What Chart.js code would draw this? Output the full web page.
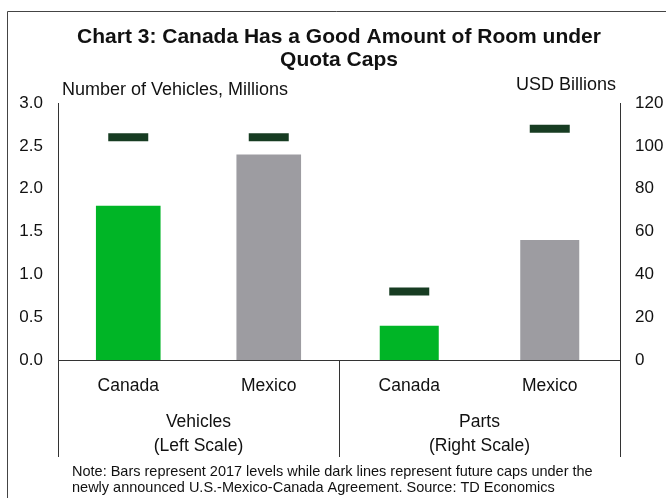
<!DOCTYPE html>
<html lang="en">
<head>
<meta charset="UTF-8">
<title>Chart 3</title>
<script src="https://cdn.jsdelivr.net/npm/chart.js"></script>
<style>
  html, body { margin: 0; padding: 0; background: #fff; }
  .box { width: 666px; height: 498px; }
</style>
</head>
<body>
<div class="box"><canvas id="grafico" width="666" height="498"></canvas></div>
<script>
// data
const categorias = ['Canada', 'Mexico', 'Canada', 'Mexico'];
const grupos = [['Vehicles', '(Left Scale)'], ['Parts', '(Right Scale)']];
const veiculos = [1.8, 2.4, null, null];        // millions, left scale
const pecas = [null, null, 16, 56];             // USD billions, right scale
const tetoVeiculos = [2.6, 2.6, null, null];
const tetoPecas = [null, null, 32, 108];
const ticksEsq = [0, 0.5, 1, 1.5, 2, 2.5, 3];
const ticksDir = [0, 20, 40, 60, 80, 100, 120];

const FONTE = '"Liberation Sans", Arial, sans-serif';
const corBarra = ['#00b526', '#9d9ca1', '#00b526', '#9d9ca1'];
const corTeto = '#173c22';

const extras = {
  id: 'extras',
  afterDraw(chart) {
    const ctx = chart.ctx;
    const area = chart.chartArea;
    const x = chart.scales.x;
    ctx.save();

    // moldura
    ctx.strokeStyle = '#444';
    ctx.lineWidth = 1;
    ctx.beginPath();
    ctx.moveTo(7.5, 498);
    ctx.lineTo(7.5, 11.5);
    ctx.lineTo(666, 11.5);
    ctx.stroke();

    // titulo
    ctx.fillStyle = '#111';
    ctx.textAlign = 'center';
    ctx.textBaseline = 'middle';
    ctx.font = 'bold 21px ' + FONTE;
    ctx.fillText('Chart 3: Canada Has a Good Amount of Room under', 339, 37);
    ctx.fillText('Quota Caps', 339, 60);

    // titulos dos eixos
    ctx.font = '18px ' + FONTE;
    ctx.textAlign = 'left';
    ctx.fillText('Number of Vehicles, Millions', 62, 90);
    ctx.textAlign = 'right';
    ctx.fillText('USD Billions', 616, 85);

    // separadores das categorias
    const meio = (x.getPixelForValue(1) + x.getPixelForValue(2)) / 2;
    ctx.strokeStyle = '#333';
    ctx.beginPath();
    [area.left, meio, area.right].forEach(function (px) {
      const p = Math.round(px) + 0.5;
      ctx.moveTo(p, area.bottom);
      ctx.lineTo(p, 457);
    });
    ctx.stroke();

    // rotulos dos grupos
    ctx.textAlign = 'center';
    ctx.fillStyle = '#111';
    ctx.font = '17.5px ' + FONTE;
    for (let g = 0; g < grupos.length; g++) {
      const cx = (x.getPixelForValue(g * 2) + x.getPixelForValue(g * 2 + 1)) / 2;
      ctx.fillText(grupos[g][0], cx, 422);
      ctx.fillText(grupos[g][1], cx, 446);
    }

    // nota
    ctx.textAlign = 'left';
    ctx.font = '14.5px ' + FONTE;
    ctx.fillText('Note: Bars represent 2017 levels while dark lines represent future caps under the', 72, 472);
    ctx.fillText('newly announced U.S.-Mexico-Canada Agreement. Source: TD Economics', 72, 488);
    ctx.restore();
  }
};

const ctx = document.getElementById('grafico');

new Chart(ctx, {
  type: 'bar',
  data: {
    labels: categorias,
    datasets: [
      {
        label: 'Vehicles',
        data: veiculos,
        yAxisID: 'y',
        backgroundColor: corBarra,
        categoryPercentage: 1,
        barPercentage: 0.46,
        grouped: false,
        order: 2
      },
      {
        label: 'Parts',
        data: pecas,
        yAxisID: 'y2',
        backgroundColor: corBarra,
        categoryPercentage: 1,
        barPercentage: 0.42,
        grouped: false,
        order: 2
      },
      {
        type: 'line',
        label: 'Vehicle caps',
        data: tetoVeiculos,
        yAxisID: 'y',
        showLine: false,
        pointStyle: 'line',
        pointRadius: 20,
        pointHoverRadius: 20,
        pointBorderWidth: 8,
        pointHoverBorderWidth: 8,
        borderColor: corTeto,
        order: 1
      },
      {
        type: 'line',
        label: 'Parts caps',
        data: tetoPecas,
        yAxisID: 'y2',
        showLine: false,
        pointStyle: 'line',
        pointRadius: 20,
        pointHoverRadius: 20,
        pointBorderWidth: 8,
        pointHoverBorderWidth: 8,
        borderColor: corTeto,
        order: 1
      }
    ]
  },
  options: {
    responsive: false,
    animation: false,
    events: [],
    layout: { padding: { left: 0, right: 0, top: 103, bottom: 0 } },
    plugins: {
      legend: { display: false },
      title: { display: false },
      tooltip: { enabled: false }
    },
    scales: {
      x: {
        grid: { display: false, drawTicks: false },
        border: { display: true, color: '#333', width: 1 },
        ticks: { color: '#111', font: { family: FONTE, size: 17.5 }, padding: 16, maxRotation: 0 },
        afterFit(scale) { scale.height = 138; }
      },
      y: {
        position: 'left',
        min: 0,
        max: 3,
        grid: { display: false, drawTicks: false },
        border: { display: true, color: '#333', width: 1 },
        afterBuildTicks(scale) { scale.ticks = ticksEsq.map(v => ({ value: v })); },
        ticks: {
          color: '#111',
          font: { family: FONTE, size: 17 },
          padding: 15,
          callback: v => v.toFixed(1)
        },
        afterFit(scale) { scale.width = 58; }
      },
      y2: {
        position: 'right',
        min: 0,
        max: 120,
        grid: { display: false, drawTicks: false },
        border: { display: true, color: '#333', width: 1 },
        afterBuildTicks(scale) { scale.ticks = ticksDir.map(v => ({ value: v })); },
        ticks: {
          color: '#111',
          font: { family: FONTE, size: 17 },
          padding: 15
        },
        afterFit(scale) { scale.width = 46; }
      }
    }
  },
  plugins: [extras]
});
</script>
</body>
</html>
